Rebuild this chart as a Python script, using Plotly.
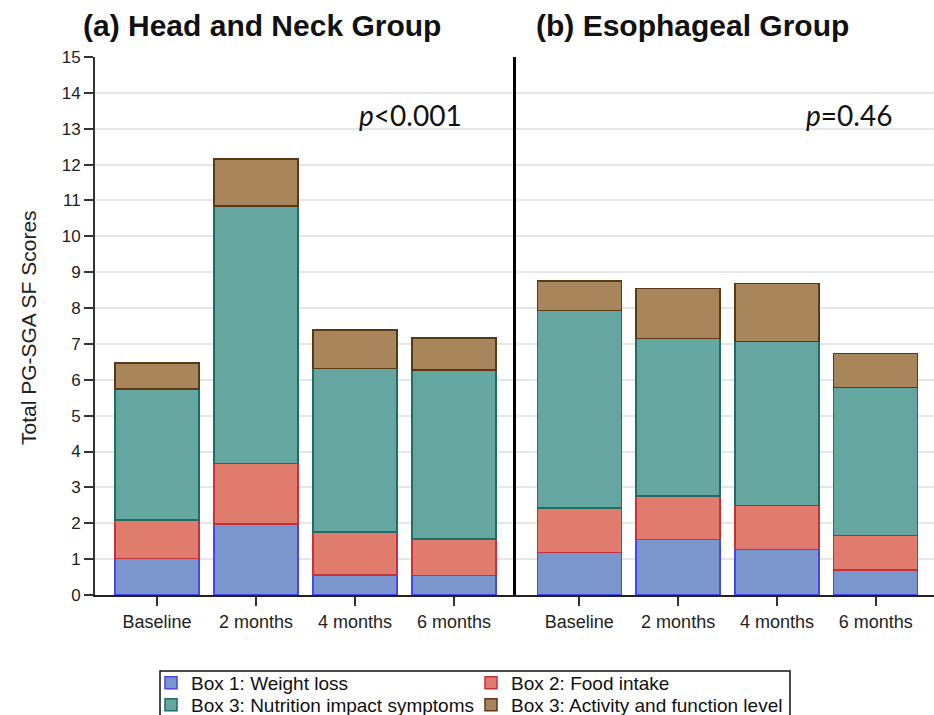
import plotly.graph_objects as go

W, H = 934, 715

# Visit labels
categories = ["Baseline", "2 months", "4 months", "6 months"]

# (a) Head and neck group: mean PG-SGA SF box scores per visit
hn_weight = [1.02, 1.98, 0.56, 0.54]
hn_food = [1.07, 1.69, 1.20, 1.02]
hn_nis = [3.65, 7.17, 4.55, 4.72]
hn_act = [0.73, 1.31, 1.08, 0.88]

# (b) Esophageal group
es_weight = [1.18, 1.55, 1.27, 0.70]
es_food = [1.25, 1.21, 1.22, 0.96]
es_nis = [5.50, 4.39, 4.58, 4.13]
es_act = [0.82, 1.40, 1.61, 0.95]

series_names = [
    "Box 1: Weight loss",
    "Box 2: Food intake",
    "Box 3: Nutrition impact symptoms",
    "Box 3: Activity and function level",
]
y_ticks = list(range(0, 16))

fills = ["#7b96cc", "#e07c6e", "#66a6a0", "#a8855b"]
edges = ["#4646f0", "#c8303c", "#1e6e64", "#5a3a14"]
# two legend rows: first row holds boxes 1-2, second row the two box-3 parts
legend_ids = ["legend", "legend", "legend2", "legend2"]

FONT = "Liberation Sans, Arial, sans-serif"


def px(x):
    return x / W


def py(y):
    return 1 - y / H


fig = go.Figure()

groups = [
    ("x", "y", [hn_weight, hn_food, hn_nis, hn_act], True),
    ("x2", "y2", [es_weight, es_food, es_nis, es_act], False),
]
for xa, ya, vals, show in groups:
    for i, v in enumerate(vals):
        fig.add_trace(go.Bar(
            x=categories, y=v, name=series_names[i],
            xaxis=xa, yaxis=ya,
            marker=dict(color=fills[i], line=dict(color=edges[i], width=1.5)),
            showlegend=show, legend=legend_ids[i],
            legendgroup=series_names[i],
        ))

y_dom = [py(595), py(57)]
grid = dict(showgrid=True, gridcolor="#e6e6e6", gridwidth=1.5, zeroline=False)
legend_common = dict(xanchor="left", yanchor="middle", orientation="h",
                     font=dict(size=19, color="#111"),
                     bgcolor="rgba(0,0,0,0)", entrywidth=275,
                     entrywidthmode="pixels", traceorder="normal")

fig.update_layout(
    width=W, height=H,
    margin=dict(l=0, r=0, t=0, b=0, autoexpand=False),
    paper_bgcolor="white", plot_bgcolor="white",
    barmode="stack", bargap=0.15,
    font=dict(family=FONT, color="#111"),
    xaxis=dict(domain=[px(95), px(516)], range=[-0.626, 3.626], anchor="y",
               showline=True, linecolor="#222", linewidth=2,
               ticks="outside", ticklen=9, tickwidth=1.5, tickcolor="#333",
               tickfont=dict(size=18, color="#222"), showgrid=False),
    xaxis2=dict(domain=[px(516), 1.0], range=[-0.641, 3.59], anchor="y2",
                showline=True, linecolor="#222", linewidth=2,
                ticks="outside", ticklen=9, tickwidth=1.5, tickcolor="#333",
                tickfont=dict(size=18, color="#222"), showgrid=False),
    yaxis=dict(domain=y_dom, range=[0, 15], anchor="x",
               tickvals=y_ticks, ticktext=[str(t) for t in y_ticks],
               showline=True, linecolor="#333", linewidth=2,
               ticks="outside", ticklen=9, tickwidth=1.5, tickcolor="#333",
               tickfont=dict(size=17, color="#222"), **grid),
    yaxis2=dict(domain=y_dom, range=[0, 15], anchor="x2",
                tickvals=y_ticks, showticklabels=False,
                showline=True, linecolor="black", linewidth=3, ticks="",
                **grid),
    legend=dict(x=px(151), y=py(683), **legend_common),
    legend2=dict(x=px(151), y=py(705), **legend_common),
    showlegend=True,
)

# Legend frame
fig.add_shape(type="rect", xref="paper", yref="paper",
              x0=px(160), x1=px(790), y0=-0.05, y1=py(671),
              line=dict(color="#111", width=1.5), fillcolor="rgba(0,0,0,0)")

# Panel titles
fig.add_annotation(text="<b>(a) Head and Neck Group</b>", x=px(262), y=py(25),
                   xref="paper", yref="paper", showarrow=False,
                   xanchor="center", yanchor="middle",
                   font=dict(size=30, color="#111"))
fig.add_annotation(text="<b>(b) Esophageal Group</b>", x=px(692), y=py(25),
                   xref="paper", yref="paper", showarrow=False,
                   xanchor="center", yanchor="middle",
                   font=dict(size=30, color="#111"))

# p-values
fig.add_annotation(text="<i>p</i><0.001", x=px(410), y=py(115),
                   xref="paper", yref="paper", showarrow=False,
                   xanchor="center", yanchor="middle",
                   font=dict(size=28, family="Lato, sans-serif", color="#111"))
fig.add_annotation(text="<i>p</i>=0.46", x=px(849), y=py(115),
                   xref="paper", yref="paper", showarrow=False,
                   xanchor="center", yanchor="middle",
                   font=dict(size=28, family="Lato, sans-serif", color="#111"))

# Y-axis title
fig.add_annotation(text="Total PG-SGA SF Scores", x=px(28), y=py(328),
                   xref="paper", yref="paper", showarrow=False, textangle=-90,
                   xanchor="center", yanchor="middle",
                   font=dict(size=21, color="#222"))

fig.write_html("out.html")
